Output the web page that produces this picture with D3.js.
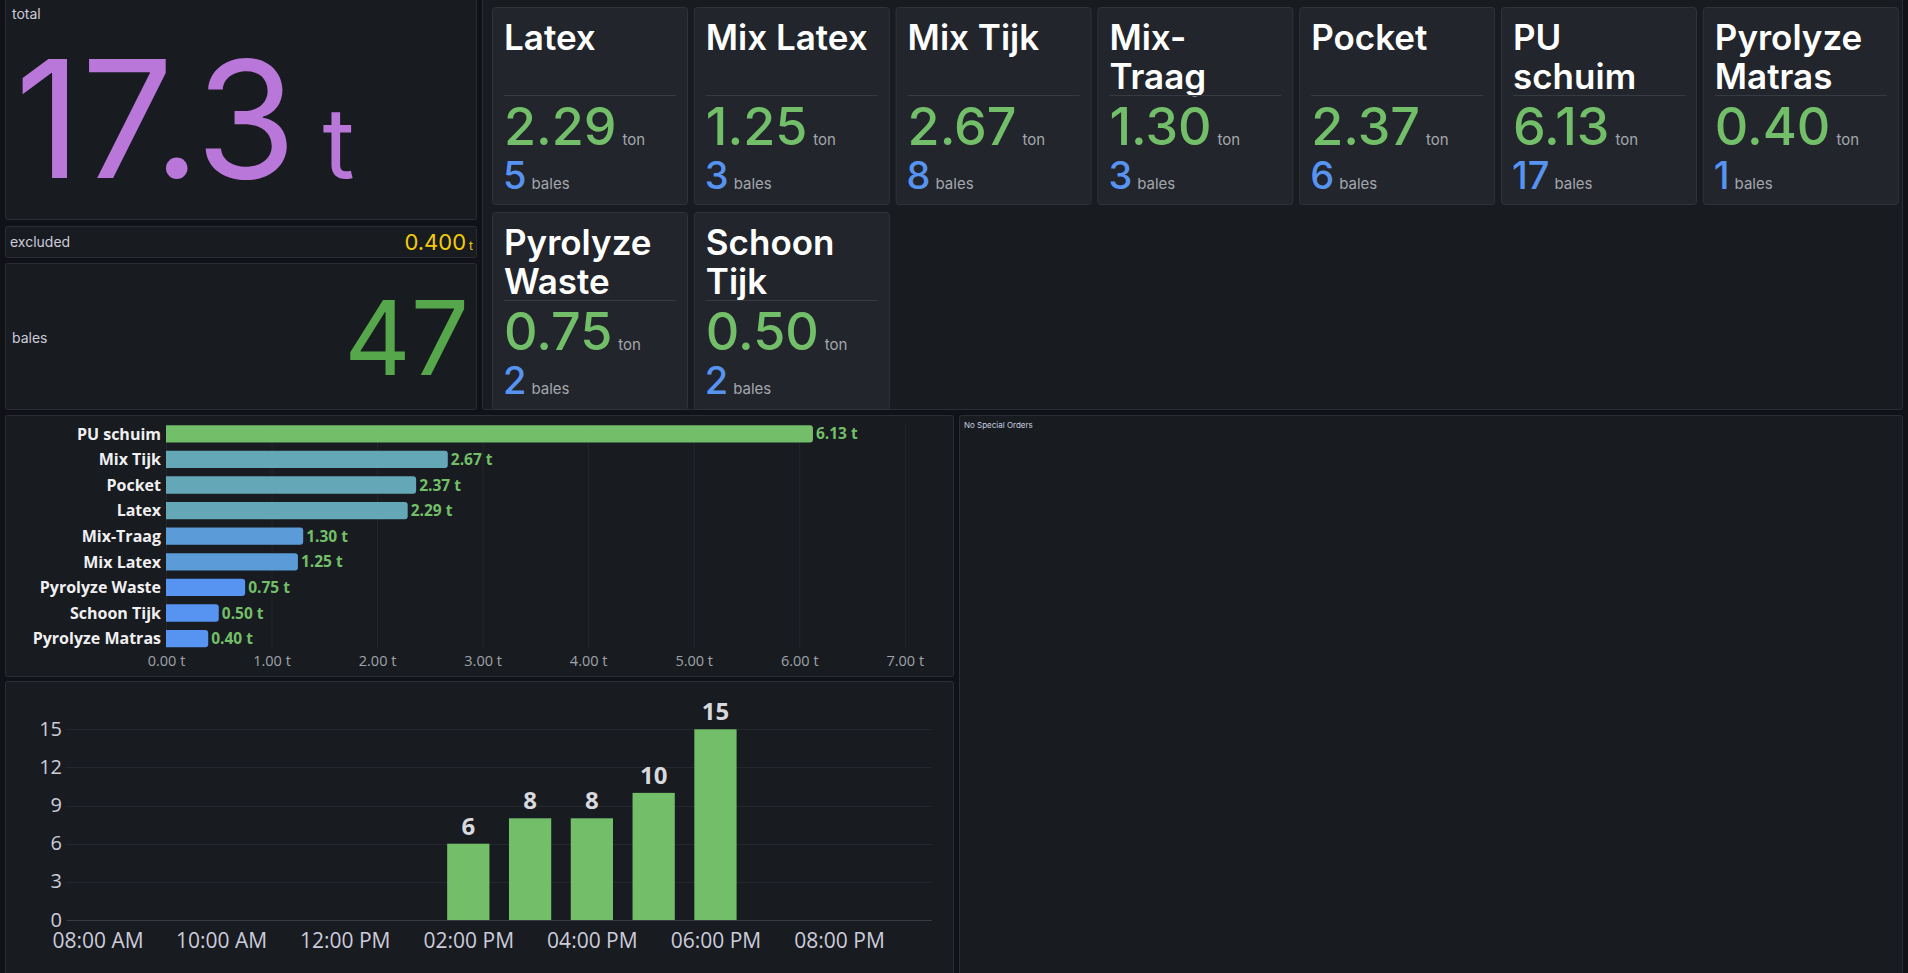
<!DOCTYPE html>
<html>
<head>
<meta charset="utf-8">
<script src="https://cdn.jsdelivr.net/npm/d3@7"></script>
<style>
html, body { margin: 0; padding: 0; background: #111217; overflow: hidden; }
svg { display: block; }
</style>
</head>
<body>
<script>
// ---- data ----
var materials = ["Latex", "Mix Latex", "Mix Tijk", "Mix-Traag", "Pocket", "PU schuim", "Pyrolyze Matras", "Pyrolyze Waste", "Schoon Tijk"];
var cardTitles = [["Latex"], ["Mix Latex"], ["Mix Tijk"], ["Mix-", "Traag"], ["Pocket"], ["PU", "schuim"], ["Pyrolyze", "Matras"], ["Pyrolyze", "Waste"], ["Schoon", "Tijk"]];
var tons = [2.29, 1.25, 2.67, 1.30, 2.37, 6.13, 0.40, 0.75, 0.50];
var balesCount = [5, 3, 8, 3, 6, 17, 1, 2, 2];

var totalTons = "17.3";
var excludedTons = "0.400";
var totalBales = "47";

var tonTicks = [0, 1, 2, 3, 4, 5, 6, 7];

var hours = [14, 15, 16, 17, 18];
var balesPerHour = [6, 8, 8, 10, 15];
var hourTicks = [8, 10, 12, 14, 16, 18, 20];
var countTicks = [0, 3, 6, 9, 12, 15];

var noteText = "No Special Orders";

// ---- setup ----
var W = 1908, H = 973;
var statFont = "Inter, 'Noto Sans', sans-serif";
var chartFont = "'Open Sans', 'Noto Sans', sans-serif";

var svg = d3.select("body").append("svg")
	.attr("width", W)
	.attr("height", H);

function panel(x, y, w, h){
	svg.append("rect")
		.attr("x", x + 0.5).attr("y", y + 0.5)
		.attr("width", w - 1).attr("height", h - 1)
		.attr("rx", 2)
		.attr("fill", "#181b1f")
		.attr("stroke", "#2a2d33");
}

// ---- left stat column ----
panel(5, -3, 472, 223);
panel(5, 226, 472, 32);
panel(5, 263, 472, 147);
panel(482, -3, 1421, 413);

svg.append("text").attr("x", 12).attr("y", 19)
	.attr("font-family", statFont).attr("font-size", 14).attr("fill", "#ccccdc")
	.text("total");

var big = svg.append("text").attr("x", 15).attr("y", 178)
	.attr("font-family", statFont).attr("fill", "#B877D9");
big.append("tspan").attr("font-size", 163).text(totalTons);
big.append("tspan").attr("font-size", 98).attr("dx", 26).text("t");

svg.append("text").attr("x", 10).attr("y", 247)
	.attr("font-family", statFont).attr("font-size", 14).attr("fill", "#ccccdc")
	.text("excluded");

var ex = svg.append("text").attr("x", 473).attr("y", 250).attr("text-anchor", "end")
	.attr("font-family", statFont).attr("fill", "#F2CC0C");
ex.append("tspan").attr("font-size", 22).text(excludedTons);
ex.append("tspan").attr("font-size", 12).attr("dx", 3).text("t");

svg.append("text").attr("x", 12).attr("y", 343)
	.attr("font-family", statFont).attr("font-size", 14).attr("fill", "#ccccdc")
	.text("bales");

svg.append("text").attr("x", 469).attr("y", 375).attr("text-anchor", "end")
	.attr("font-family", statFont).attr("font-size", 103).attr("fill", "#56A64B")
	.text(totalBales);

// ---- material cards ----
var cardW = 196, cardH = 198, cardStepX = 201.8, cardStepY = 205;

var cards = svg.selectAll(".card")
	.data(materials)
	.enter()
	.append("g")
	.attr("class", "card")
	.attr("transform", function(d, i){
		return "translate(" + (492 + (i % 7) * cardStepX) + "," + (7 + Math.floor(i / 7) * cardStepY) + ")";
	});

cards.append("rect")
	.attr("x", 0.5).attr("y", 0.5)
	.attr("width", cardW - 1).attr("height", cardH - 1)
	.attr("rx", 3)
	.attr("fill", "#22252b")
	.attr("stroke", "#303338");

cards.each(function(d, i){
	var g = d3.select(this);
	var lines = cardTitles[i];
	g.selectAll(".tl").data(lines).enter().append("text")
		.attr("x", 12)
		.attr("y", function(l, j){ return 43 + j * 39; })
		.attr("font-family", statFont).attr("font-weight", 600)
		.attr("font-size", 35).attr("fill", "#ffffff")
		.text(function(l){ return l; });

	g.append("line")
		.attr("x1", 12).attr("x2", cardW - 12)
		.attr("y1", 88.5).attr("y2", 88.5)
		.attr("stroke", "#373a40");

	var v = g.append("text").attr("x", 12).attr("y", 138)
		.attr("font-family", statFont);
	v.append("tspan").attr("font-size", 52).attr("font-weight", 500)
		.attr("fill", "#73BF69").text(tons[i].toFixed(2));
	v.append("tspan").attr("font-size", 15).attr("dx", 6)
		.attr("fill", "#a4a7ad").text("ton");

	var b = g.append("text").attr("x", 11).attr("y", 182)
		.attr("font-family", statFont);
	b.append("tspan").attr("font-size", 38).attr("font-weight", 500)
		.attr("fill", "#5794F2").text(balesCount[i]);
	b.append("tspan").attr("font-size", 15).attr("dx", 5)
		.attr("fill", "#a4a7ad").text("bales");
});

// ---- horizontal bar chart (tons by material) ----
panel(5, 415, 949, 262);

var order = d3.range(materials.length).sort(function(a, b){ return tons[b] - tons[a]; });

var xT = d3.scaleLinear().domain([0, 7.4]).range([166, 947]);
var yM = d3.scaleBand()
	.domain(order.map(function(i){ return materials[i]; }))
	.range([421, 651.4])
	.paddingInner(0.324)
	.paddingOuter(0.162);

var barColor = d3.scaleThreshold()
	.domain([1, 2, 5])
	.range(["#5794F2", "#5B9BD8", "#64A8B8", "#73BF69"]);

svg.append("g")
	.selectAll("line")
	.data(tonTicks)
	.enter()
	.append("line")
	.attr("x1", function(d){ return xT(d) + 0.5; })
	.attr("x2", function(d){ return xT(d) + 0.5; })
	.attr("y1", 423).attr("y2", 649)
	.attr("stroke", "#24272d");

var xAxisT = d3.axisBottom(xT)
	.tickValues(tonTicks)
	.tickSize(0)
	.tickPadding(0)
	.tickFormat(function(d){ return d.toFixed(2) + " t"; });

var gx = svg.append("g")
	.attr("transform", "translate(0,656)")
	.call(xAxisT);
gx.select(".domain").remove();
gx.selectAll("text")
	.attr("font-family", chartFont).attr("font-size", 14.5)
	.attr("fill", "#9fa3aa").attr("dy", "0.71em");

function roundRight(x0, y, w, h, r){
	r = Math.min(r, w / 2, h / 2);
	return "M" + x0 + "," + y +
		"H" + (x0 + w - r) +
		"Q" + (x0 + w) + "," + y + " " + (x0 + w) + "," + (y + r) +
		"V" + (y + h - r) +
		"Q" + (x0 + w) + "," + (y + h) + " " + (x0 + w - r) + "," + (y + h) +
		"H" + x0 + "Z";
}

svg.selectAll(".hbar")
	.data(order)
	.enter()
	.append("path")
	.attr("class", "hbar")
	.attr("d", function(i){
		return roundRight(xT(0), yM(materials[i]), xT(tons[i]) - xT(0), yM.bandwidth(), 3);
	})
	.attr("fill", function(i){ return barColor(tons[i]); });

svg.selectAll(".hlabel")
	.data(order)
	.enter()
	.append("text")
	.attr("class", "hlabel")
	.attr("x", 161)
	.attr("y", function(i){ return yM(materials[i]) + yM.bandwidth() / 2; })
	.attr("dy", "0.36em")
	.attr("text-anchor", "end")
	.attr("font-family", chartFont).attr("font-weight", 700)
	.attr("font-size", 16).attr("fill", "#f0f0f2")
	.text(function(i){ return materials[i]; });

svg.selectAll(".hval")
	.data(order)
	.enter()
	.append("text")
	.attr("class", "hval")
	.attr("x", function(i){ return xT(tons[i]) + 3; })
	.attr("y", function(i){ return yM(materials[i]) + yM.bandwidth() / 2; })
	.attr("dy", "0.36em")
	.attr("font-family", chartFont).attr("font-weight", 700)
	.attr("font-size", 15.5).attr("fill", "#73BF69")
	.text(function(i){ return tons[i].toFixed(2) + " t"; });

// ---- bales per hour ----
panel(5, 681, 949, 300);

function at(h){ return new Date(2024, 0, 1, Math.floor(h), Math.round((h % 1) * 60)); }

var xH = d3.scaleTime().domain([at(7.5), at(21.5)]).range([66.7, 931.7]);
var yC = d3.scaleLinear().domain([0, 15]).range([920, 729.3]);

svg.append("g")
	.selectAll("line")
	.data(countTicks)
	.enter()
	.append("line")
	.attr("x1", 66.7).attr("x2", 931.7)
	.attr("y1", function(d){ return Math.round(yC(d)) + 0.5; })
	.attr("y2", function(d){ return Math.round(yC(d)) + 0.5; })
	.attr("stroke", function(d){ return d === 0 ? "#3a3d44" : "#24272d"; });

var yAxisC = d3.axisLeft(yC).tickValues(countTicks).tickSize(0).tickPadding(0);
var gy = svg.append("g").attr("transform", "translate(62,0)").call(yAxisC);
gy.select(".domain").remove();
gy.selectAll("text")
	.attr("font-family", chartFont).attr("font-size", 20)
	.attr("fill", "#ccccdc").attr("dy", "0.3em");

var xAxisH = d3.axisBottom(xH)
	.tickValues(hourTicks.map(at))
	.tickSize(0).tickPadding(0)
	.tickFormat(d3.timeFormat("%I:%M %p"));
var gxh = svg.append("g").attr("transform", "translate(0,933)").call(xAxisH);
gxh.select(".domain").remove();
gxh.selectAll("text")
	.attr("font-family", chartFont).attr("font-size", 21)
	.attr("fill", "#ccccdc").attr("dy", "0.71em");

var hourW = xH(at(9)) - xH(at(8));
var bw = hourW * 0.684;

svg.selectAll(".vbar")
	.data(hours)
	.enter()
	.append("rect")
	.attr("class", "vbar")
	.attr("x", function(h){ return xH(at(h)) - bw / 2; })
	.attr("y", function(h, i){ return yC(balesPerHour[i]); })
	.attr("width", bw)
	.attr("height", function(h, i){ return yC(0) - yC(balesPerHour[i]); })
	.attr("fill", "#73BF69");

svg.selectAll(".vval")
	.data(hours)
	.enter()
	.append("text")
	.attr("class", "vval")
	.attr("x", function(h){ return xH(at(h)); })
	.attr("y", function(h, i){ return yC(balesPerHour[i]) - 9; })
	.attr("text-anchor", "middle")
	.attr("font-family", chartFont).attr("font-weight", 700)
	.attr("font-size", 24).attr("fill", "#d8d9de")
	.text(function(h, i){ return balesPerHour[i]; });

// ---- special orders ----
panel(959, 415, 944, 570);
svg.append("text").attr("x", 964).attr("y", 428)
	.attr("font-family", statFont).attr("font-size", 8).attr("fill", "#c8d0e0")
	.text(noteText);
</script>
</body>
</html>
